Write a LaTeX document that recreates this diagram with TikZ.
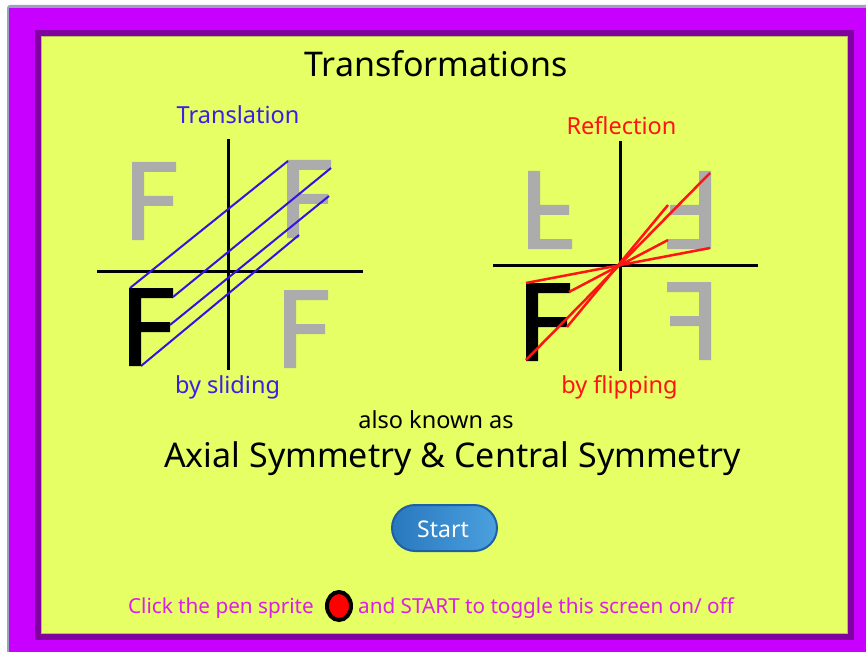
\documentclass[tikz,border=0pt]{standalone}
\usepackage{fontspec}
\setmainfont{Noto Sans}
\usetikzlibrary{shapes.geometric,shapes.misc}
\definecolor{magbg}{RGB}{200,0,255}
\definecolor{darkpur}{RGB}{128,0,160}
\definecolor{ylw}{RGB}{230,255,100}
\definecolor{ylwedge}{RGB}{180,190,90}
\definecolor{frameg}{RGB}{150,165,185}
\definecolor{Fgray}{RGB}{172,172,172}
\definecolor{tblue}{RGB}{60,30,230}
\definecolor{lblue}{RGB}{50,20,225}
\definecolor{rred}{RGB}{255,20,20}
\definecolor{pinktxt}{RGB}{220,30,230}
\definecolor{btnL}{RGB}{40,120,190}
\definecolor{btnR}{RGB}{75,160,222}
\definecolor{btnE}{RGB}{30,95,165}
\begin{document}
\begin{tikzpicture}[x=1pt,y=-1pt,
  axis/.style={line width=3pt,black},
  slide/.style={line width=2pt,lblue},
  flip/.style={line width=2.5pt,rred},
  txt/.style={anchor=base,inner sep=0pt},
  lab/.style={txt,font=\fontsize{23.5}{28}\selectfont},
  Fglyph/.pic={\fill (0,0) -- (44,0) -- (44,10) -- (12,10) -- (12,34) -- (41,34) -- (41,44) -- (12,44) -- (12,78) -- (0,78) -- cycle;}
]
\useasboundingbox (0,0) rectangle (866,652);
\fill[white] (0,0) rectangle (866,652);
\fill[frameg, rounded corners=3pt] (7,5) rectangle (880,670);
\fill[magbg] (9,8) rectangle (866,652);
\fill[darkpur] (35,30) rectangle (854,640);
\fill[ylw] (41,36) rectangle (848,634);
\draw[ylwedge, line width=0.8pt] (41.4,36.4) rectangle (847.6,633.6);

\node[txt, font=\fontsize{34}{40}\selectfont] (title) at (436,77) {Transformations};

% ---- Translation ----
\coordinate (tx1) at (97,271); \coordinate (tx2) at (363,271);
\coordinate (ty1) at (228,139); \coordinate (ty2) at (228,370);
\pic[color=Fgray] at (132,162) {Fglyph};
\pic[color=Fgray] at (287,160) {Fglyph};
\pic[color=Fgray] at (284,290) {Fglyph};
\pic[color=black] at (129,288) {Fglyph};
\draw[axis] (tx1) -- (tx2);
\draw[axis] (ty1) -- (ty2);
\coordinate (b1s) at (130,288); \coordinate (b1e) at (288,161);
\coordinate (b2s) at (173,297); \coordinate (b2e) at (331,168);
\coordinate (b3s) at (170,325); \coordinate (b3e) at (329,196);
\coordinate (b4s) at (141,366); \coordinate (b4e) at (299,235);
\draw[slide] (b1s) -- (b1e);
\draw[slide] (b2s) -- (b2e);
\draw[slide] (b3s) -- (b3e);
\draw[slide] (b4s) -- (b4e);
\node[lab, tblue] (trans) at (238,124) {Translation};
\node[lab, tblue] (slid) at (227.5,393) {by sliding};

% ---- Reflection ----
\coordinate (rx1) at (493,265); \coordinate (rx2) at (758,265);
\coordinate (ry1) at (620,141); \coordinate (ry2) at (620,371);
\pic[color=Fgray, yscale=-1] at (528,249) {Fglyph};
\pic[color=Fgray, rotate=180] at (711,249) {Fglyph};
\pic[color=Fgray, xscale=-1] at (711,282) {Fglyph};
\pic[color=black] at (526,283) {Fglyph};
\draw[axis] (rx1) -- (rx2);
\draw[axis] (ry1) -- (ry2);
\coordinate (r1s) at (526,283); \coordinate (r1e) at (710,248);
\coordinate (r2s) at (569,292); \coordinate (r2e) at (668,240);
\coordinate (r3s) at (567,327); \coordinate (r3e) at (668,205);
\coordinate (r4s) at (526,360); \coordinate (r4e) at (710,173);
\draw[flip] (r1s) -- (r1e);
\draw[flip] (r2s) -- (r2e);
\draw[flip] (r3s) -- (r3e);
\draw[flip] (r4s) -- (r4e);
\node[lab, rred] (refl) at (621.5,135) {Reflection};
\node[lab, rred] (flipp) at (619.5,393) {by flipping};

% ---- middle texts ----
\node[txt, font=\fontsize{23.5}{28}\selectfont] (aka) at (436,428) {also known as};
\node[txt, font=\fontsize{34}{40}\selectfont] (axial) at (452.5,467) {Axial Symmetry \& Central Symmetry};

% ---- Start button ----
\node[draw=btnE, line width=2pt, left color=btnL, right color=btnR, rounded corners=23pt,
      minimum width=105pt, minimum height=46pt, inner sep=0pt] (start) at (444.5,528) {};
\node[txt, white, font=\fontsize{23}{27}\selectfont] (starttxt) at (443,537) {Start};

% ---- bottom line ----
\node[txt, pinktxt, font=\fontsize{20.7}{24}\selectfont, anchor=base east] (click) at (314,613) {Click the pen sprite};
\node[ellipse, draw=black, line width=4pt, fill=red, minimum width=24pt, minimum height=28pt, inner sep=0pt] (pen) at (339,606) {};
\node[txt, pinktxt, font=\fontsize{20.7}{24}\selectfont, anchor=base west] (toggle) at (358,613) {and START to toggle this screen on/ off};
\end{tikzpicture}
\end{document}
